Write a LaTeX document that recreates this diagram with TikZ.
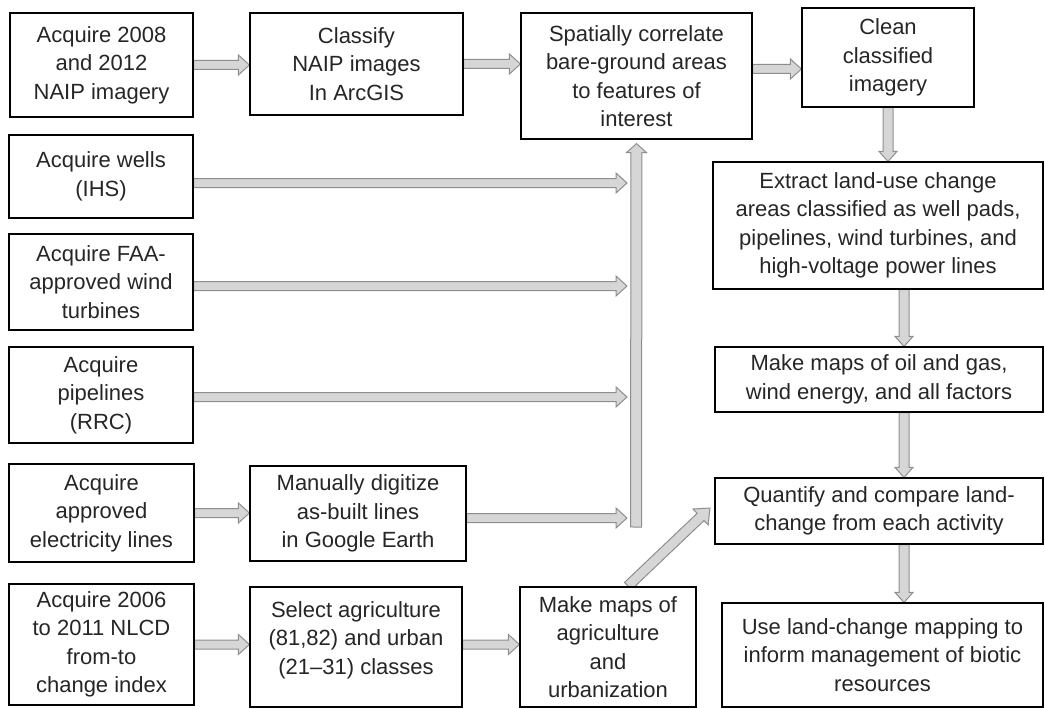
\documentclass[tikz,border=0pt]{standalone}
\usepackage{fontspec}
\setmainfont{Liberation Sans}
\usetikzlibrary{calc}
\definecolor{afill}{HTML}{D6D6D6}
\definecolor{aedge}{HTML}{8E8E8E}
\definecolor{txtc}{HTML}{262626}
\pgfdeclarelayer{bg}
\pgfsetlayers{bg,main}
\tikzset{
  box/.style={draw=black, fill=white, line width=1.2pt, align=center, text=txtc,
    inner sep=2pt, font=\fontsize{22}{28.5}\selectfont},
  blk/.style={draw=aedge, fill=afill, line width=1pt, line join=miter},
}
\newcommand\blockarrow[5]{%
  \path[blk] let \p1=(#1), \p2=(#2),
    \n1={atan2(\y2-\y1,\x2-\x1)}, \n2={veclen(\x2-\x1,\y2-\y1)} in
    [shift={(\p1)}, rotate=\n1]
    (0pt,-#3) -- ({\n2*1pt-#5},-#3) -- ({\n2*1pt-#5},-#4) -- ({\n2*1pt},0pt)
    -- ({\n2*1pt-#5},#4) -- ({\n2*1pt-#5},#3) -- (0pt,#3) -- cycle;}
\begin{document}
\begin{tikzpicture}[x=1pt,y=-1pt]
\useasboundingbox (0,0) rectangle (1045,709);
% boxes
\node[box, minimum width=183pt, minimum height=104pt] (A) at (101.5,65) {Acquire 2008\\and 2012\\NAIP imagery};
\node[box, minimum width=213pt, minimum height=102pt] (B) at (356.5,64) {Classify\\NAIP images\\In ArcGIS};
\node[box, minimum width=231pt, minimum height=126pt] (C) at (636.5,76) {Spatially correlate\\bare-ground areas\\to features of\\interest};
\node[box, minimum width=172pt, minimum height=99pt] (D) at (888,57.5) {Clean\\classified\\imagery};
\node[box, minimum width=184pt, minimum height=83pt] (wells) at (101,176.5) {Acquire wells\\(IHS)};
\node[box, minimum width=184pt, minimum height=96pt] (faa) at (101,282) {Acquire FAA-\\approved wind\\turbines};
\node[box, minimum width=184pt, minimum height=96pt] (pipe) at (101,395) {Acquire\\pipelines\\(RRC)};
\node[box, minimum width=185pt, minimum height=98pt] (elec) at (101.5,513) {Acquire\\approved\\electricity lines};
\node[box, minimum width=216pt, minimum height=95pt] (man) at (358,513.5) {Manually digitize\\as-built lines\\in Google Earth};
\node[box, minimum width=185pt, minimum height=121pt] (nlcd) at (101.5,644.5) {Acquire 2006\\to 2011 NLCD\\from-to\\change index};
\node[box, minimum width=212pt, minimum height=120pt] (sel) at (356,647) {Select agriculture\\(81,82) and urban\\(21--31) classes\\[-19pt]\strut};
\node[box, minimum width=176pt, minimum height=120pt] (agri) at (608,647) {Make maps of\\agriculture\\and\\urbanization};
\node[box, minimum width=330pt, minimum height=127pt] (E) at (878,225.5) {Extract land-use change\\areas classified as well pads,\\pipelines, wind turbines, and\\high-voltage power lines};
\node[box, minimum width=328pt, minimum height=65pt] (F) at (879,379.5) {Make maps of oil and gas,\\wind energy, and all factors};
\node[box, minimum width=328pt, minimum height=66pt] (G) at (879,511) {Quantify and compare land-\\change from each activity};
\node[box, minimum width=321pt, minimum height=104pt] (H) at (882.5,655) {Use land-change mapping to\\inform management of biotic\\resources};
% helper coordinates
\coordinate (rcd) at (0,69);
\coordinate (col) at (904,0);
\coordinate (barx) at (627,0);
\coordinate (yw) at (0,183);
\coordinate (yf) at (0,286);
\coordinate (yp) at (0,397);
\coordinate (ym) at (0,518);
\coordinate (barbot) at (636,527);
\coordinate (dgs) at (628,586);
\coordinate (dgt) at (710,508);
% arrows
\begin{pgfonlayer}{bg}
\blockarrow{A.east}{B.west |- A.east}{4.5pt}{10pt}{11pt}
\blockarrow{B.east}{C.west |- B.east}{4.5pt}{10pt}{11pt}
\blockarrow{C.east |- rcd}{D.west |- rcd}{4.5pt}{10pt}{11pt}
\blockarrow{D.south}{D.south |- E.north}{5pt}{9pt}{10pt}
\blockarrow{E.south -| col}{F.north -| col}{5pt}{9pt}{10pt}
\blockarrow{F.south -| col}{G.north -| col}{5pt}{9pt}{10pt}
\blockarrow{G.south -| col}{H.north -| col}{5pt}{9pt}{10pt}
\blockarrow{wells.east |- yw}{barx |- yw}{4.5pt}{10pt}{11pt}
\blockarrow{faa.east |- yf}{barx |- yf}{4.5pt}{10pt}{11pt}
\blockarrow{pipe.east |- yp}{barx |- yp}{4.5pt}{10pt}{11pt}
\blockarrow{elec.east}{man.west |- elec.east}{4.5pt}{10pt}{11pt}
\blockarrow{man.east |- ym}{barx |- ym}{4.5pt}{10pt}{11pt}
\blockarrow{nlcd.east}{sel.west |- nlcd.east}{4.5pt}{10pt}{11pt}
\blockarrow{sel.east |- nlcd.east}{agri.west |- nlcd.east}{4.5pt}{10pt}{11pt}
\blockarrow{barbot}{[yshift=-4pt]C.south}{5.5pt}{10pt}{9pt}
\blockarrow{dgs}{dgt}{5pt}{11pt}{13pt}
\end{pgfonlayer}
\end{tikzpicture}
\end{document}
